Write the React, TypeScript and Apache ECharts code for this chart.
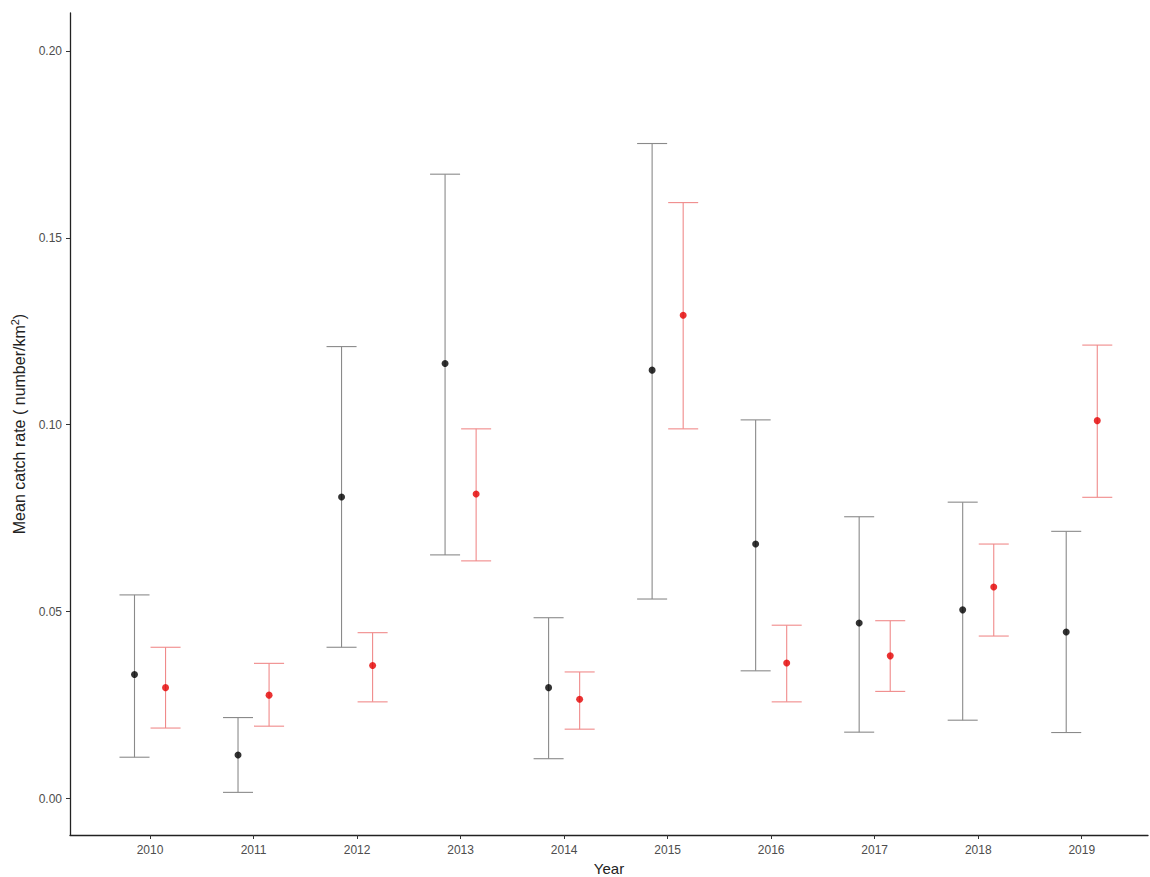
import React, { useEffect, useRef } from "react";
import * as echarts from "echarts";

const years = [2010, 2011, 2012, 2013, 2014, 2015, 2016, 2017, 2018, 2019];
const blackMean = [0.0332, 0.0117, 0.0807, 0.1164, 0.0297, 0.1146, 0.0681, 0.047, 0.0505, 0.0446];
const blackLow = [0.0111, 0.0017, 0.0405, 0.0652, 0.0107, 0.0534, 0.0342, 0.0178, 0.021, 0.0177];
const blackHigh = [0.0545, 0.0217, 0.1209, 0.167, 0.0484, 0.1752, 0.1013, 0.0754, 0.0793, 0.0715];
const redMean = [0.0297, 0.0277, 0.0356, 0.0815, 0.0266, 0.1293, 0.0363, 0.0382, 0.0566, 0.1011];
const redLow = [0.0189, 0.0194, 0.0259, 0.0636, 0.0186, 0.0989, 0.0259, 0.0287, 0.0435, 0.0806];
const redHigh = [0.0405, 0.0362, 0.0444, 0.0989, 0.0339, 0.1594, 0.0464, 0.0476, 0.0681, 0.1213];
const yTicks = [0, 0.05, 0.1, 0.15, 0.2];

const DODGE = 0.15;
const CAP_HALF = 0.145;
const FONT = "'Liberation Sans', Arial, sans-serif";

function errorSeries(offset: number, low: number[], high: number[], color: string) {
  return {
    type: "custom",
    silent: true,
    z: 2,
    data: years.map((y, i) => [y + offset, low[i], high[i]]),
    renderItem: (params: any, api: any) => {
      const x = api.value(0);
      const lo = api.coord([x, api.value(1)]);
      const hi = api.coord([x, api.value(2)]);
      const half = api.size([CAP_HALF, 0])[0];
      const style = { stroke: color, lineWidth: 1.1 };
      return {
        type: "group",
        children: [
          { type: "line", shape: { x1: lo[0], y1: lo[1], x2: hi[0], y2: hi[1] }, style },
          { type: "line", shape: { x1: hi[0] - half, y1: hi[1], x2: hi[0] + half, y2: hi[1] }, style },
          { type: "line", shape: { x1: lo[0] - half, y1: lo[1], x2: lo[0] + half, y2: lo[1] }, style },
        ],
      };
    },
  };
}

export default function App() {
  const ref = useRef<HTMLDivElement>(null);
  useEffect(() => {
    if (!ref.current) return;
    const chart = echarts.init(ref.current, null, { renderer: "svg" });
    chart.setOption({
      animation: false,
      backgroundColor: "#ffffff",
      grid: { left: 70, right: 2, top: 13, bottom: 42, containLabel: false, outerBoundsMode: "none" },
      xAxis: {
        type: "value",
        min: 2009.227,
        max: 2019.64,
        name: "Year",
        nameLocation: "middle",
        nameGap: 25,
        nameTextStyle: { fontFamily: FONT, fontSize: 15, color: "#222" },
        splitLine: { show: false },
        axisLine: { show: true, onZero: false, lineStyle: { color: "#222", width: 1.3 } },
        axisTick: { show: true, length: 4, customValues: years, lineStyle: { color: "#333" } },
        axisLabel: {
          customValues: years,
          margin: 9,
          fontFamily: FONT,
          fontSize: 12,
          color: "#4d4d4d",
          formatter: (v: number) => String(Math.round(v)),
        },
      },
      yAxis: {
        type: "value",
        min: -0.0097,
        max: 0.2101,
        name: "Mean catch rate ( number/km{sup|2})",
        nameLocation: "middle",
        nameRotate: 90,
        nameGap: 40,
        nameTextStyle: {
          fontFamily: FONT,
          fontSize: 16,
          color: "#222",
          rich: { sup: { fontFamily: FONT, fontSize: 11, color: "#222", verticalAlign: "top", padding: [0, 0, 9, 0] } },
        },
        splitLine: { show: false },
        axisLine: { show: true, onZero: false, lineStyle: { color: "#222", width: 1.3 } },
        axisTick: { show: true, length: 4, customValues: yTicks, lineStyle: { color: "#333" } },
        axisLabel: {
          customValues: yTicks,
          margin: 8,
          fontFamily: FONT,
          fontSize: 12,
          color: "#4d4d4d",
          formatter: (v: number) => v.toFixed(2),
        },
      },
      series: [
        errorSeries(-DODGE, blackLow, blackHigh, "#8a8a8a"),
        errorSeries(DODGE, redLow, redHigh, "#f08a8a"),
        {
          type: "scatter",
          z: 3,
          symbol: "circle",
          symbolSize: 7,
          itemStyle: { color: "#000000" },
          data: years.map((y, i) => [y - DODGE, blackMean[i]]),
        },
        {
          type: "scatter",
          z: 3,
          symbol: "circle",
          symbolSize: 7,
          itemStyle: { color: "#e30000" },
          data: years.map((y, i) => [y + DODGE, redMean[i]]),
        },
      ],
    });
    return () => chart.dispose();
  }, []);
  return <div ref={ref} style={{ position: "absolute", left: 0, top: 0, width: 1150, height: 877 }} />;
}
